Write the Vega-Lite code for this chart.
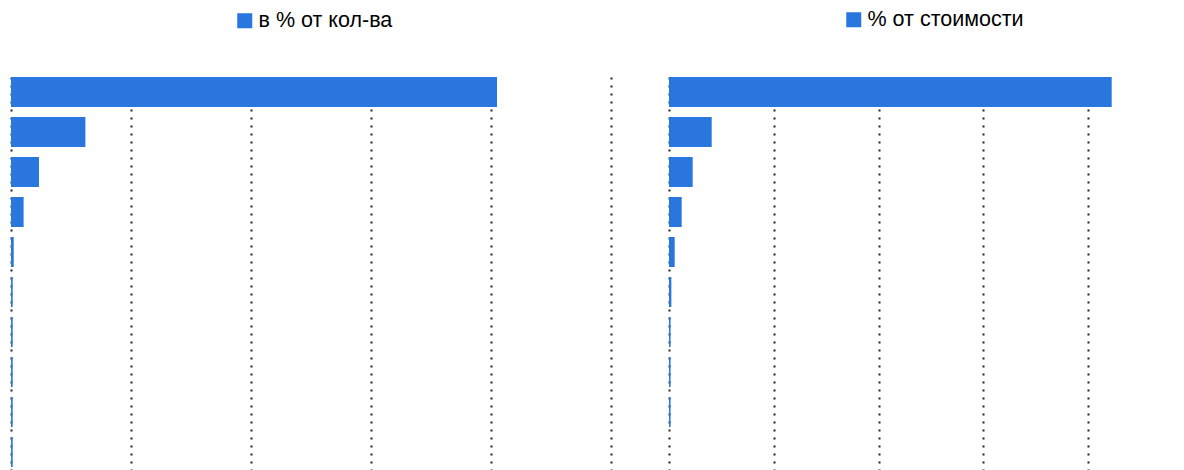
{
  "$schema": "https://vega.github.io/schema/vega-lite/v6.json",
  "padding": {"left": 11, "top": 9, "right": 0, "bottom": 0},
  "background": "white",
  "data": {
    "values": [
      {"rank": 1, "qty": 81.0, "cost": 84.5},
      {"rank": 2, "qty": 12.4, "cost": 8.15},
      {"rank": 3, "qty": 4.67, "cost": 4.52},
      {"rank": 4, "qty": 2.1, "cost": 2.42},
      {"rank": 5, "qty": 0.45, "cost": 1.09},
      {"rank": 6, "qty": 0.28, "cost": 0.45},
      {"rank": 7, "qty": 0.28, "cost": 0.3},
      {"rank": 8, "qty": 0.28, "cost": 0.3},
      {"rank": 9, "qty": 0.28, "cost": 0.3},
      {"rank": 10, "qty": 0.28, "cost": 0}
    ]
  },
  "spacing": 58,
  "hconcat": [
    {
      "width": 600,
      "height": 398,
      "mark": {"type": "bar"},
      "encoding": {
        "y": {"field": "rank", "type": "ordinal", "axis": null, "scale": {"paddingInner": 0.25, "paddingOuter": 0.1}},
        "x": {"field": "qty", "type": "quantitative", "scale": {"domain": [0, 100], "nice": false}, "axis": {"values": [0, 20, 40, 60, 80, 100]}},
        "color": {"datum": "в % от кол-ва", "scale": {"range": ["#2976de"]}, "legend": {"orient": "none", "legendX": 223, "legendY": -63, "title": null}}
      }
    },
    {
      "width": 515,
      "height": 398,
      "mark": {"type": "bar"},
      "encoding": {
        "y": {"field": "rank", "type": "ordinal", "axis": null, "scale": {"paddingInner": 0.25, "paddingOuter": 0.1}},
        "x": {"field": "cost", "type": "quantitative", "scale": {"domain": [0, 98.3], "nice": false}, "axis": {"values": [0, 20, 40, 60, 80]}},
        "color": {"datum": "% от стоимости", "scale": {"range": ["#2976de"]}, "legend": {"orient": "none", "legendX": 174, "legendY": -64, "title": null}}
      }
    }
  ],
  "resolve": {"scale": {"color": "independent", "x": "independent"}, "legend": {"color": "independent"}},
  "config": {
    "view": {"stroke": null},
    "axis": {
      "domain": false,
      "ticks": false,
      "labels": false,
      "title": null,
      "grid": true,
      "gridColor": "#222222",
      "gridDash": [2, 6],
      "gridWidth": 2,
      "gridOpacity": 1
    },
    "legend": {
      "padding": 0,
      "symbolType": "square",
      "symbolSize": 225,
      "symbolStrokeWidth": 0,
      "symbolOpacity": 1,
      "labelFont": "Liberation Sans",
      "labelFontSize": 21.5,
      "labelColor": "#000000",
      "labelOffset": 3,
      "labelLimit": 400
    }
  }
}
